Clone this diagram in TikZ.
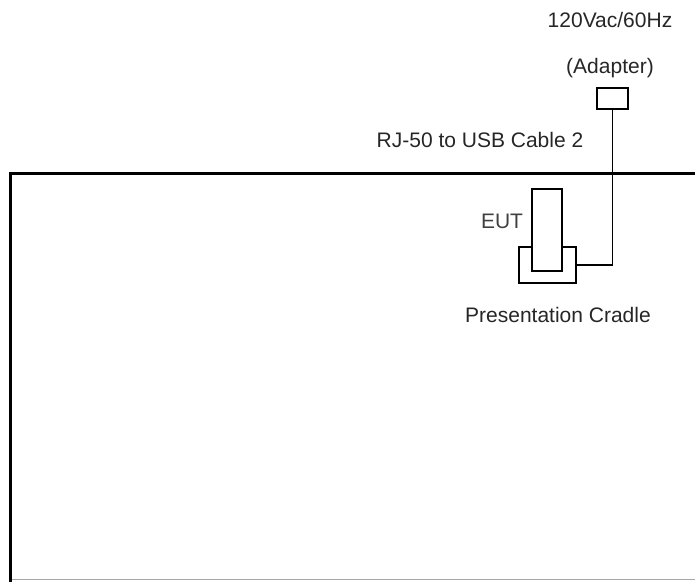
\documentclass[tikz,border=0pt]{standalone}
\usepackage{fontspec}
\setmainfont{Liberation Sans}
\begin{document}
\begin{tikzpicture}[x=1pt,y=-1pt,
  lbl/.style={inner sep=0pt,font=\fontsize{21}{24}\selectfont,text=black!85},
  part/.style={draw=black,line width=1.4pt,fill=white,inner sep=0pt},
  cable/.style={draw=black,line width=1.4pt},
  table/.style={draw=black,line width=3pt}]
\useasboundingbox (0,0) rectangle (695,581);
% table outline
\coordinate (tl) at (10,173);
\coordinate (tr) at (696,173);
\coordinate (bl) at (10,582);
\coordinate (br) at (696,579.5);
\draw[draw=black!35,line width=1pt] (10,579.5) -- (br);
\draw[table] (tr) -- (tl) -- (bl);
% parts
\node[part,minimum width=31pt,minimum height=21pt] (adapter) at (612.5,98.5) {};
\node[part,minimum width=57pt,minimum height=36pt] (cradle) at (547.5,265) {};
\node[part,minimum width=30pt,minimum height=82pt] (eut) at (547,230) {};
% cable
\draw[cable] (adapter.south) |- (cradle.east);
% labels
\node[lbl] (lvac) at (610,20) {120Vac/60Hz};
\node[lbl] (ladapt) at (610,68) {(Adapter)};
\node[lbl] (lcable) at (480,140) {RJ-50 to USB Cable 2};
\node[lbl,text=black!75] (leut) at (502,221) {EUT};
\node[lbl] (lcradle) at (558,315) {Presentation Cradle};
\end{tikzpicture}
\end{document}
